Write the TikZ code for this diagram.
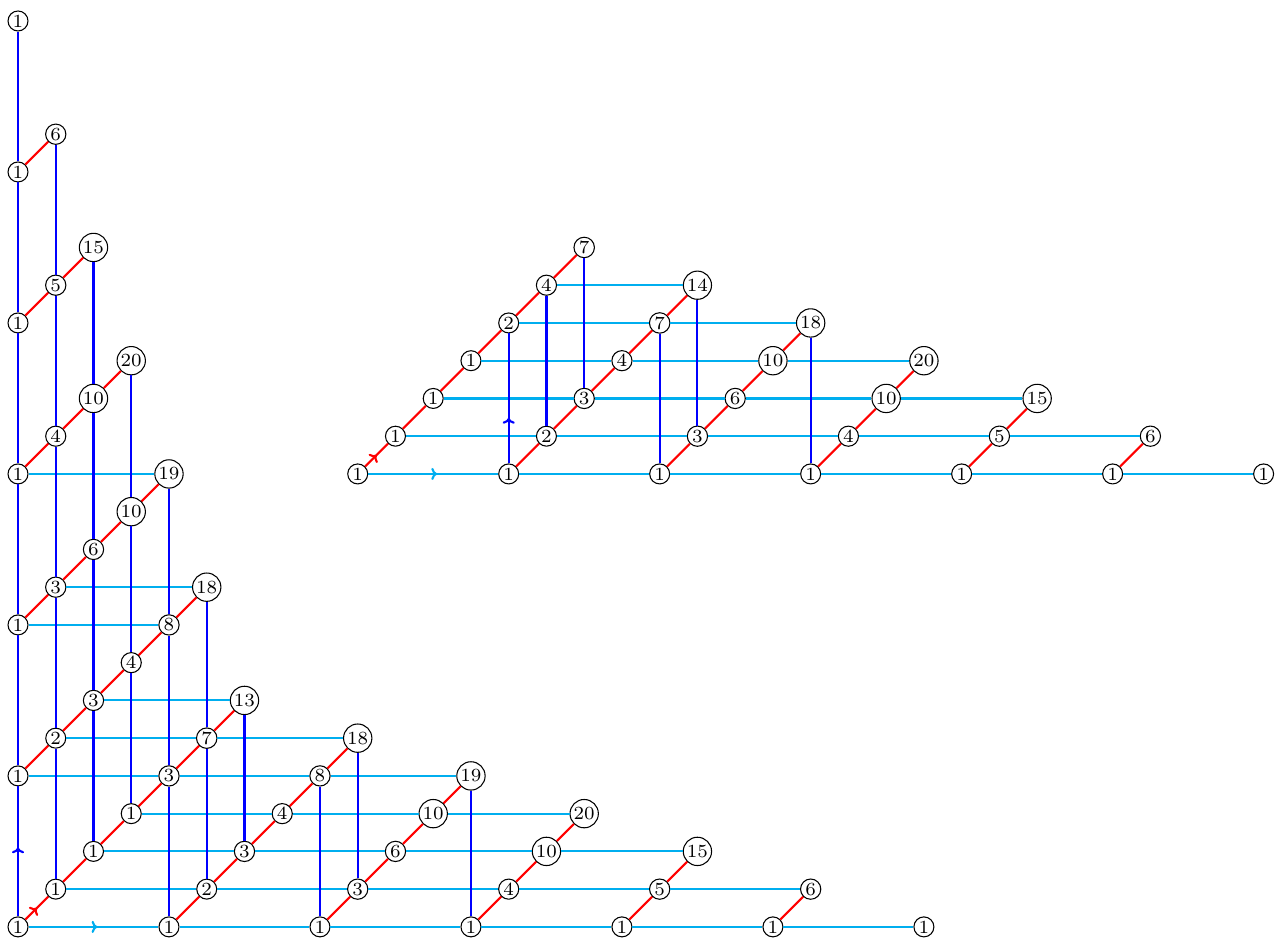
\documentclass[tikz,border=0pt]{standalone}
\usepackage{tikz}
\usetikzlibrary{arrows.meta,decorations.markings}
\definecolor{xcyan}{RGB}{0,174,239}

\begin{document}
\begin{tikzpicture}[x=0.5cm,y=0.5cm,
    v/.style={circle,draw=black,fill=white,inner sep=0.5pt,font=\scriptsize},
    ex/.style={thick,xcyan},
    ey/.style={thick,blue},
    ez/.style={thick,red},
    arr/.style={postaction={decorate},decoration={markings,mark=at position #1 with {\arrow{To[scale=0.65]}}}}
  ]
    \useasboundingbox (-0.477,-0.424) rectangle (33.62,24.556);
    \node[v] (l0-0) at (0,0) {1};
    \node[v] (l4-0) at (4,0) {1};
    \node[v] (l8-0) at (8,0) {1};
    \node[v] (l12-0) at (12,0) {1};
    \node[v] (l16-0) at (16,0) {1};
    \node[v] (l20-0) at (20,0) {1};
    \node[v] (l24-0) at (24,0) {1};
    \node[v] (l1-1) at (1,1) {1};
    \node[v] (l5-1) at (5,1) {2};
    \node[v] (l9-1) at (9,1) {3};
    \node[v] (l13-1) at (13,1) {4};
    \node[v] (l17-1) at (17,1) {5};
    \node[v] (l21-1) at (21,1) {6};
    \node[v] (l2-2) at (2,2) {1};
    \node[v] (l6-2) at (6,2) {3};
    \node[v] (l10-2) at (10,2) {6};
    \node[v] (l14-2) at (14,2) {10};
    \node[v] (l18-2) at (18,2) {15};
    \node[v] (l3-3) at (3,3) {1};
    \node[v] (l7-3) at (7,3) {4};
    \node[v] (l11-3) at (11,3) {10};
    \node[v] (l15-3) at (15,3) {20};
    \node[v] (l0-4) at (0,4) {1};
    \node[v] (l4-4) at (4,4) {3};
    \node[v] (l8-4) at (8,4) {8};
    \node[v] (l12-4) at (12,4) {19};
    \node[v] (l1-5) at (1,5) {2};
    \node[v] (l5-5) at (5,5) {7};
    \node[v] (l9-5) at (9,5) {18};
    \node[v] (l2-6) at (2,6) {3};
    \node[v] (l6-6) at (6,6) {13};
    \node[v] (l3-7) at (3,7) {4};
    \node[v] (l0-8) at (0,8) {1};
    \node[v] (l4-8) at (4,8) {8};
    \node[v] (l1-9) at (1,9) {3};
    \node[v] (l5-9) at (5,9) {18};
    \node[v] (l2-10) at (2,10) {6};
    \node[v] (l3-11) at (3,11) {10};
    \node[v] (l0-12) at (0,12) {1};
    \node[v] (l4-12) at (4,12) {19};
    \node[v] (l1-13) at (1,13) {4};
    \node[v] (l2-14) at (2,14) {10};
    \node[v] (l3-15) at (3,15) {20};
    \node[v] (l0-16) at (0,16) {1};
    \node[v] (l1-17) at (1,17) {5};
    \node[v] (l2-18) at (2,18) {15};
    \node[v] (l0-20) at (0,20) {1};
    \node[v] (l1-21) at (1,21) {6};
    \node[v] (l0-24) at (0,24) {1};

    \node[v] (r0-0) at (9,12) {1};
    \node[v] (r4-0) at (13,12) {1};
    \node[v] (r8-0) at (17,12) {1};
    \node[v] (r12-0) at (21,12) {1};
    \node[v] (r16-0) at (25,12) {1};
    \node[v] (r20-0) at (29,12) {1};
    \node[v] (r24-0) at (33,12) {1};
    \node[v] (r1-1) at (10,13) {1};
    \node[v] (r5-1) at (14,13) {2};
    \node[v] (r9-1) at (18,13) {3};
    \node[v] (r13-1) at (22,13) {4};
    \node[v] (r17-1) at (26,13) {5};
    \node[v] (r21-1) at (30,13) {6};
    \node[v] (r2-2) at (11,14) {1};
    \node[v] (r6-2) at (15,14) {3};
    \node[v] (r10-2) at (19,14) {6};
    \node[v] (r14-2) at (23,14) {10};
    \node[v] (r18-2) at (27,14) {15};
    \node[v] (r3-3) at (12,15) {1};
    \node[v] (r7-3) at (16,15) {4};
    \node[v] (r11-3) at (20,15) {10};
    \node[v] (r15-3) at (24,15) {20};
    \node[v] (r4-4) at (13,16) {2};
    \node[v] (r8-4) at (17,16) {7};
    \node[v] (r12-4) at (21,16) {18};
    \node[v] (r5-5) at (14,17) {4};
    \node[v] (r9-5) at (18,17) {14};
    \node[v] (r6-6) at (15,18) {7};

    \draw[ex,arr=0.53] (l0-0)--(l4-0);
    \draw[ex] (l4-0)--(l8-0)--(l12-0)--(l16-0)--(l20-0)--(l24-0);
    \draw[ex] (l1-1)--(l5-1)--(l9-1)--(l13-1)--(l17-1)--(l21-1);
    \draw[ex] (l2-2)--(l6-2)--(l10-2)--(l14-2)--(l18-2);
    \draw[ex] (l3-3)--(l7-3)--(l11-3)--(l15-3);
    \draw[ex] (l0-4)--(l4-4)--(l8-4)--(l12-4);
    \draw[ex] (l1-5)--(l5-5)--(l9-5);
    \draw[ex] (l2-6)--(l6-6);
    \draw[ex] (l0-8)--(l4-8);
    \draw[ex] (l1-9)--(l5-9);
    \draw[ex] (l0-12)--(l4-12);
    \draw[ey,arr=0.53] (l0-0)--(l0-4);
    \draw[ey] (l0-4)--(l0-8)--(l0-12)--(l0-16)--(l0-20)--(l0-24);
    \draw[ey] (l1-1)--(l1-5)--(l1-9)--(l1-13)--(l1-17)--(l1-21);
    \draw[ey] (l2-2)--(l2-6)--(l2-10)--(l2-14)--(l2-18);
    \draw[ey] (l3-3)--(l3-7)--(l3-11)--(l3-15);
    \draw[ey] (l4-0)--(l4-4)--(l4-8)--(l4-12);
    \draw[ey] (l5-1)--(l5-5)--(l5-9);
    \draw[ey] (l6-2)--(l6-6);
    \draw[ey] (l8-0)--(l8-4);
    \draw[ey] (l9-1)--(l9-5);
    \draw[ey] (l12-0)--(l12-4);
    \draw[ez,arr=0.5] (l0-0)--(l1-1);
    \draw[ez] (l1-1)--(l2-2)--(l3-3)--(l4-4)--(l5-5)--(l6-6);
    \draw[ez] (l0-4)--(l1-5)--(l2-6)--(l3-7)--(l4-8)--(l5-9);
    \draw[ez] (l0-8)--(l1-9)--(l2-10)--(l3-11)--(l4-12);
    \draw[ez] (l0-12)--(l1-13)--(l2-14)--(l3-15);
    \draw[ez] (l0-16)--(l1-17)--(l2-18);
    \draw[ez] (l0-20)--(l1-21);
    \draw[ez] (l4-0)--(l5-1)--(l6-2)--(l7-3)--(l8-4)--(l9-5);
    \draw[ez] (l8-0)--(l9-1)--(l10-2)--(l11-3)--(l12-4);
    \draw[ez] (l12-0)--(l13-1)--(l14-2)--(l15-3);
    \draw[ez] (l16-0)--(l17-1)--(l18-2);
    \draw[ez] (l20-0)--(l21-1);

    \draw[ex,arr=0.53] (r0-0)--(r4-0);
    \draw[ex] (r4-0)--(r8-0)--(r12-0)--(r16-0)--(r20-0)--(r24-0);
    \draw[ex] (r1-1)--(r5-1)--(r9-1)--(r13-1)--(r17-1)--(r21-1);
    \draw[ex] (r2-2)--(r6-2)--(r10-2)--(r14-2)--(r18-2);
    \draw[ex] (r3-3)--(r7-3)--(r11-3)--(r15-3);
    \draw[ex] (r4-4)--(r8-4)--(r12-4);
    \draw[ex] (r5-5)--(r9-5);
    \draw[ey,arr=0.35] (r4-0)--(r4-4);
    \draw[ey] (r5-1)--(r5-5);
    \draw[ey] (r6-2)--(r6-6);
    \draw[ey] (r8-0)--(r8-4);
    \draw[ey] (r9-1)--(r9-5);
    \draw[ey] (r12-0)--(r12-4);
    \draw[ez,arr=0.5] (r0-0)--(r1-1);
    \draw[ez] (r1-1)--(r2-2)--(r3-3)--(r4-4)--(r5-5)--(r6-6);
    \draw[ez] (r4-0)--(r5-1)--(r6-2)--(r7-3)--(r8-4)--(r9-5);
    \draw[ez] (r8-0)--(r9-1)--(r10-2)--(r11-3)--(r12-4);
    \draw[ez] (r12-0)--(r13-1)--(r14-2)--(r15-3);
    \draw[ez] (r16-0)--(r17-1)--(r18-2);
    \draw[ez] (r20-0)--(r21-1);
  \end{tikzpicture}
\end{document}
